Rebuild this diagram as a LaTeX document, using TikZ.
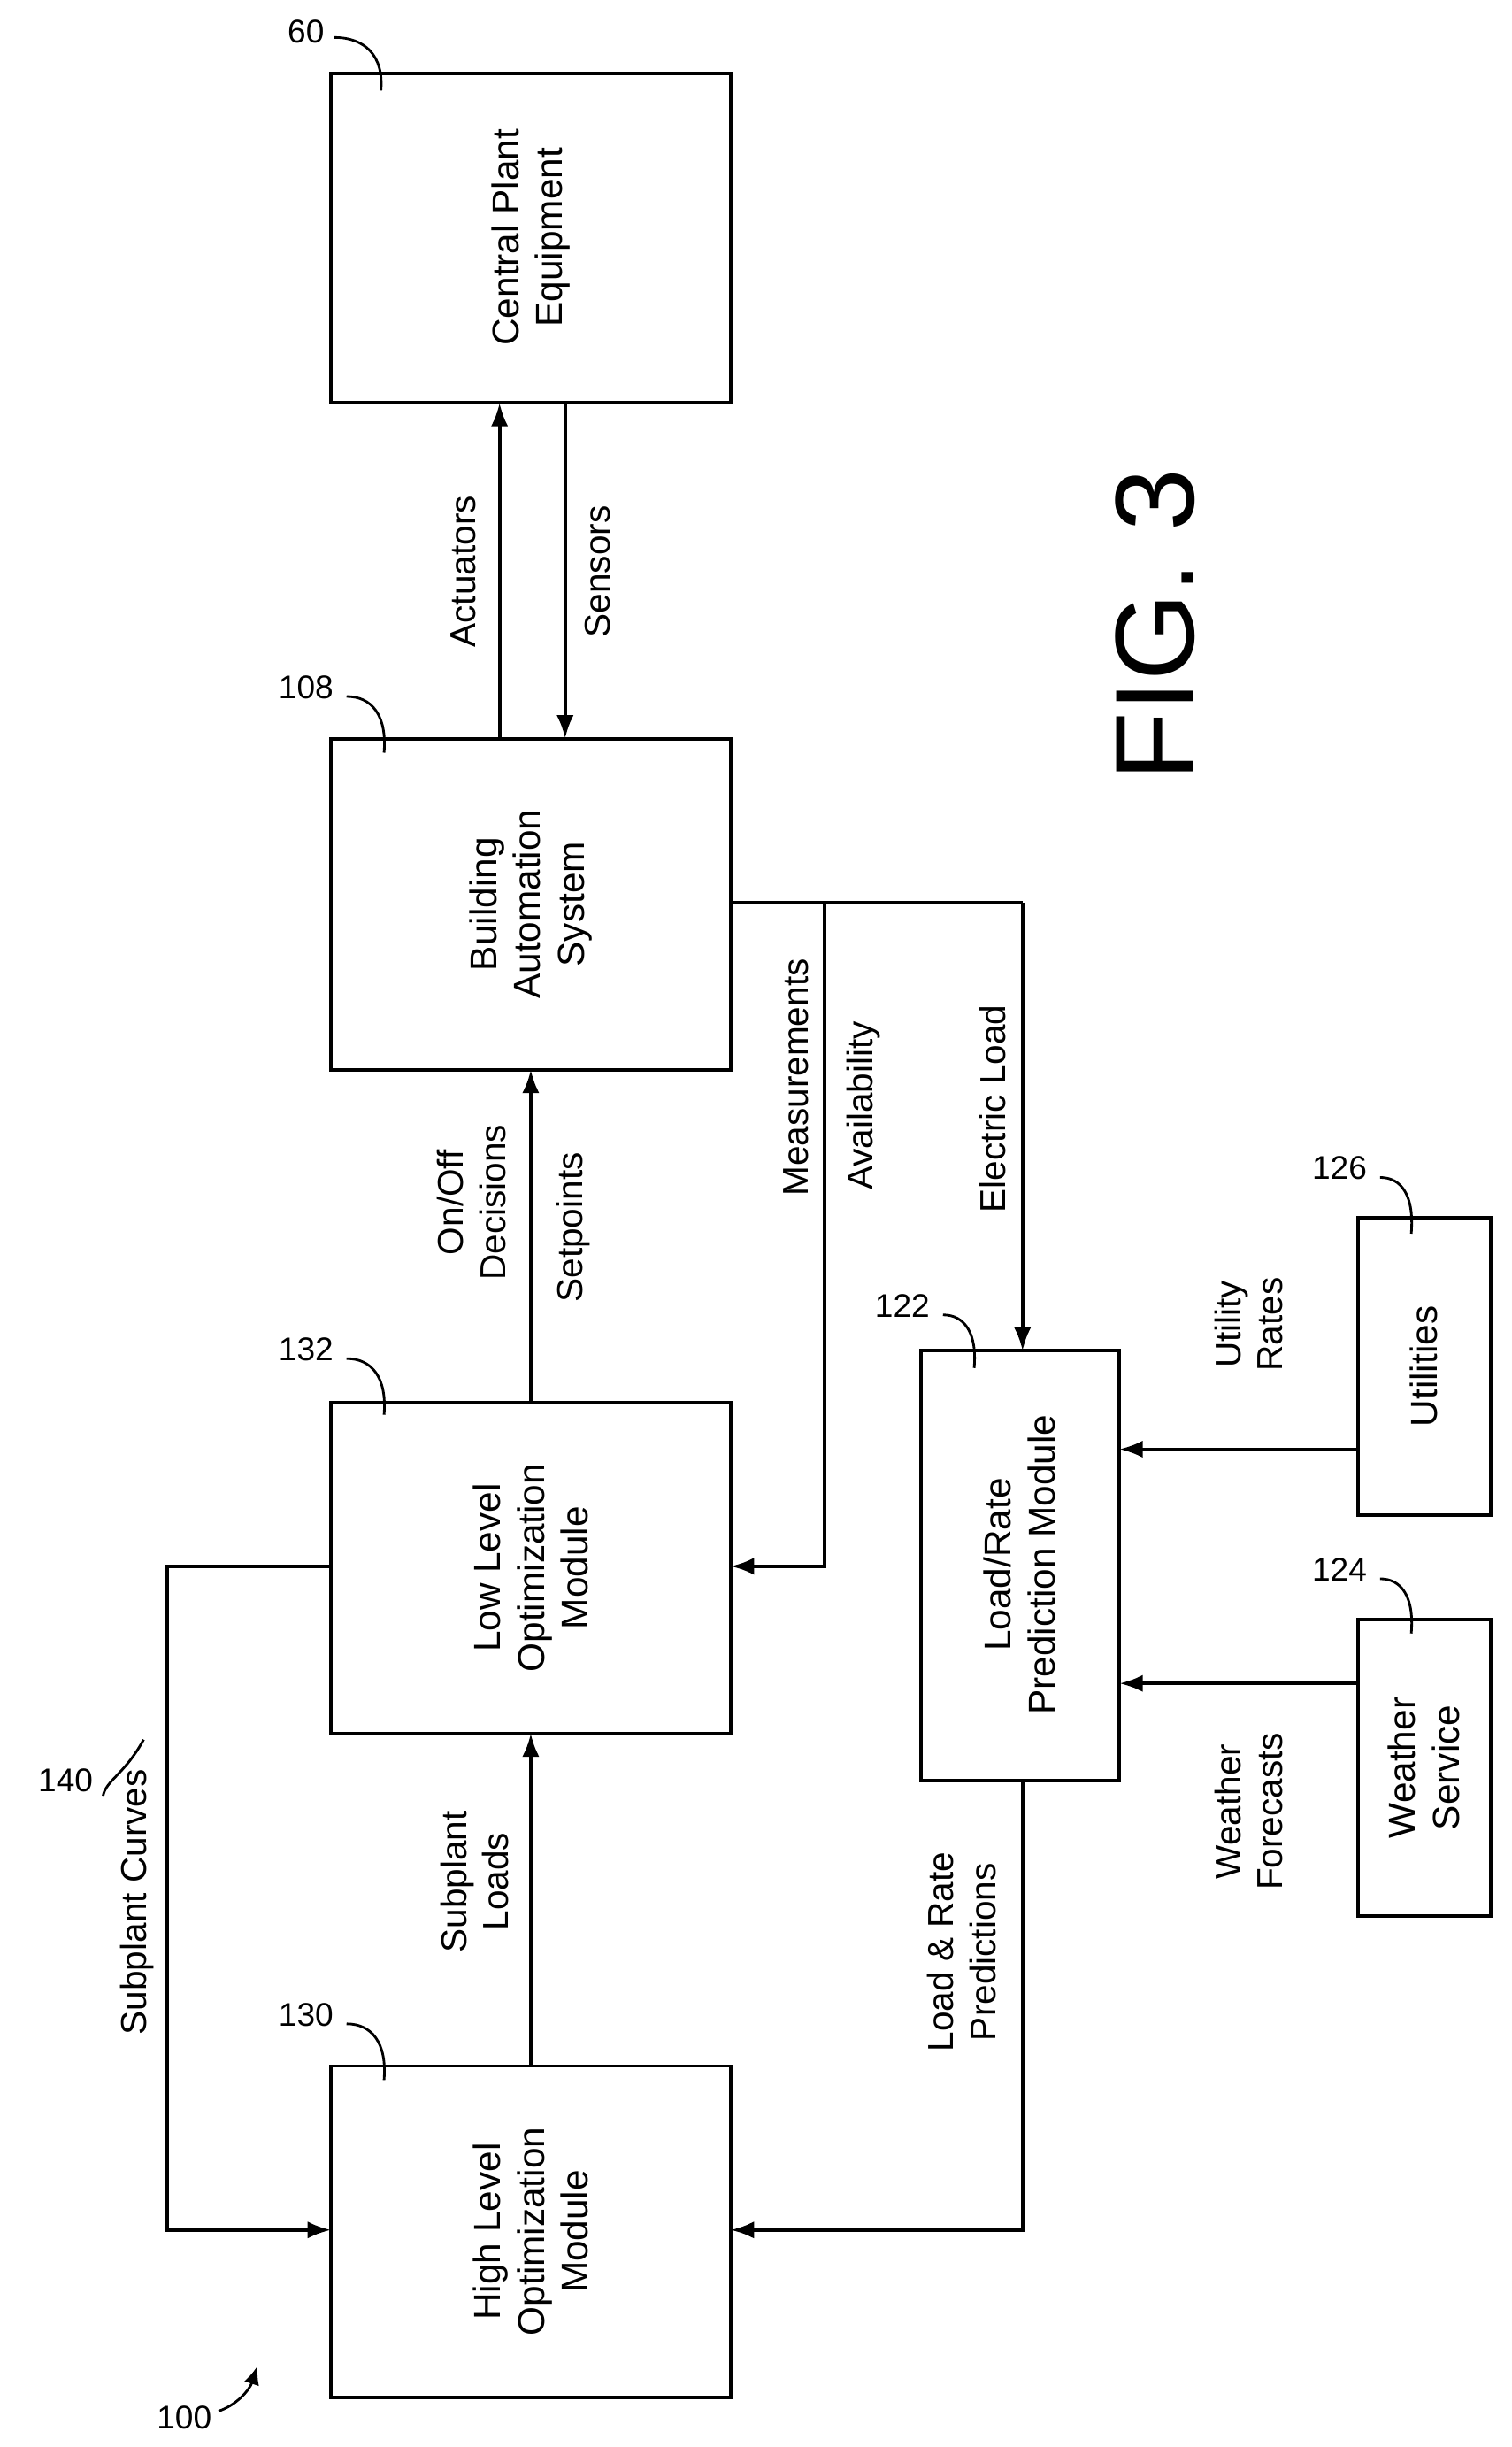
\documentclass[tikz,border=0pt]{standalone}
\usepackage{fontspec}
\setmainfont{Liberation Sans}
\usetikzlibrary{arrows.meta}
\begin{document}
\begin{tikzpicture}[x=1pt,y=-1pt,
  box/.style={draw,line width=2.2pt,rectangle},
  txt/.style={rotate=90,align=center,font=\fontsize{24}{28}\selectfont},
  lbl/.style={rotate=90,align=center,font=\fontsize{23}{27}\selectfont},
  ref/.style={font=\fontsize{21}{25}\selectfont},
  con/.style={line width=2.2pt,-{Latex[length=15pt,width=11pt]}},
  lead/.style={line width=1.6pt}]
\useasboundingbox (0,0) rectangle (968,1567);
% boxes
\draw[box] (212,47) rectangle (468,258); \node[txt] (cpe) at (340,152) {Central Plant\\Equipment};
\draw[box] (212,473) rectangle (468,685); \node[txt] (bas) at (340,579) {Building\\Automation\\System};
\draw[box] (212,898) rectangle (468,1110); \node[txt] (llo) at (340,1004) {Low Level\\Optimization\\Module};
\draw[box] (212,1323) rectangle (468,1535); \node[txt] (hlo) at (340,1429) {High Level\\Optimization\\Module};
\draw[box] (590,865) rectangle (717,1140); \node[txt] (lrp) at (653,1002) {Load/Rate\\Prediction Module};
\draw[box] (870,780) rectangle (955,970); \node[txt] (util) at (912,875) {Utilities};
\draw[box] (870,1037) rectangle (955,1227); \node[txt] (ws) at (912,1132) {Weather\\Service};
% connectors
\coordinate (a1) at (320,473); \coordinate (a2) at (320,258);
\draw[con] (a1) -- (a2);
\coordinate (s1) at (362,258); \coordinate (s2) at (362,473);
\draw[con] (s1) -- (s2);
\node[lbl] (lact) at (297,366) {Actuators};
\node[lbl] (lsen) at (383,366) {Sensors};
\coordinate (o1) at (340,898); \coordinate (o2) at (340,685);
\draw[con] (o1) -- (o2);
\node[lbl] (lon) at (302,770) {On/Off\\Decisions};
\node[lbl] (lset) at (367,786) {Setpoints};
\coordinate (m0) at (468,578); \coordinate (m1) at (528,578); \coordinate (m2) at (528,1003);
\coordinate (m3) at (468,1003); \coordinate (e1) at (655,578); \coordinate (e2) at (655,865);
\draw[line width=2.2pt] (m0) -- (e1);
\draw[con] (m1) -- (m2) -- (m3);
\draw[con] (e1) -- (e2);
\node[lbl] (lmeas) at (510,690) {Measurements};
\node[lbl] (lav) at (553,708) {Availability};
\node[lbl] (lel) at (636,710) {Electric Load};
\coordinate (u1) at (870,928); \coordinate (u2) at (717,928);
\draw[con] (u1) -- (u2);
\node[lbl] (lur) at (800,848) {Utility\\Rates};
\coordinate (w1) at (870,1078); \coordinate (w2) at (717,1078);
\draw[con] (w1) -- (w2);
\node[lbl] (lwf) at (800,1160) {Weather\\Forecasts};
\coordinate (p1) at (655,1140); \coordinate (p2) at (655,1428); \coordinate (p3) at (468,1428);
\draw[con] (p1) -- (p2) -- (p3);
\node[lbl] (lpr) at (616,1250) {Load \& Rate\\Predictions};
\coordinate (l1) at (340,1323); \coordinate (l2) at (340,1110);
\draw[con] (l1) -- (l2);
\node[lbl] (lsl) at (304,1205) {Subplant\\Loads};
\coordinate (c1) at (212,1003); \coordinate (c2) at (107,1003); \coordinate (c3) at (107,1428); \coordinate (c4) at (212,1428);
\draw[con] (c1) -- (c2) -- (c3) -- (c4);
\node[lbl] (lsc) at (88,1218) {Subplant Curves};
% reference numerals
\node[ref] (r60) at (196,20) {60};
\draw[lead] (214,24) .. controls (234,24) and (246,36) .. (244,58);
\node[ref] (r108) at (196,440) {108};
\draw[lead] (222,446) .. controls (238,446) and (248,458) .. (246,482);
\node[ref] (r132) at (196,864) {132};
\draw[lead] (222,870) .. controls (238,870) and (248,882) .. (246,906);
\node[ref] (r130) at (196,1290) {130};
\draw[lead] (222,1296) .. controls (238,1296) and (248,1308) .. (246,1332);
\node[ref] (r122) at (578,836) {122};
\draw[lead] (604,842) .. controls (618,842) and (626,854) .. (624,876);
\node[ref] (r126) at (858,748) {126};
\draw[lead] (884,754) .. controls (898,754) and (906,766) .. (904,790);
\node[ref] (r124) at (858,1005) {124};
\draw[lead] (884,1011) .. controls (898,1011) and (906,1023) .. (904,1046);
\node[ref] (r140) at (42,1140) {140};
\draw[lead] (66,1150) .. controls (68,1140) and (80,1136) .. (92,1114);
\node[ref] (r100) at (118,1548) {100};
\draw[lead,-{Latex[length=12pt,width=10pt]}] (140,1544) .. controls (152,1540) and (160,1530) .. (165,1515);
\node[rotate=90,font=\fontsize{72}{84}\selectfont] (fig) at (740,400) {FIG. 3};
\end{tikzpicture}
\end{document}
